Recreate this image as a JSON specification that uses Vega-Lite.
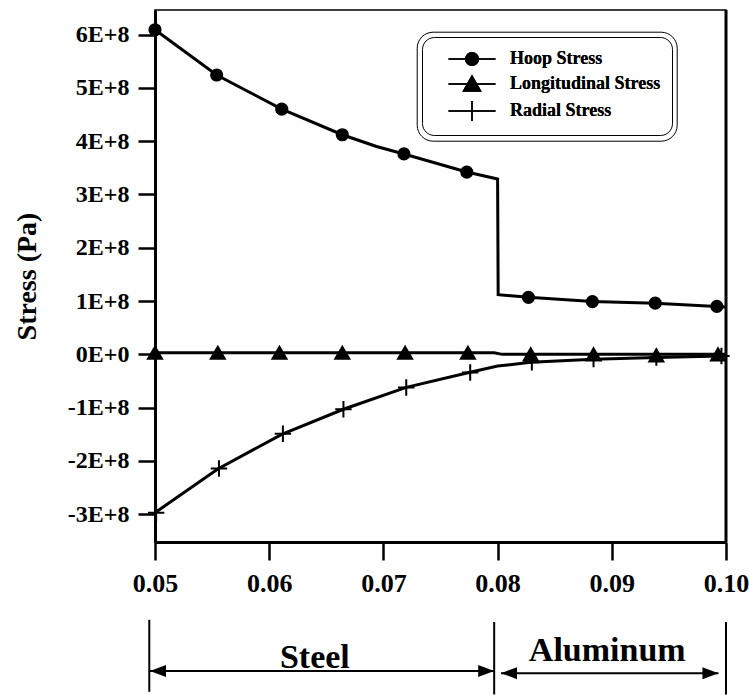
{
  "$schema": "https://vega.github.io/schema/vega-lite/v6.json",
  "width": 571,
  "height": 532,
  "autosize": "none",
  "padding": {"left": 155, "top": 10, "right": 23, "bottom": 153},
  "background": "white",
  "config": {
    "view": {"stroke": "black", "strokeWidth": 1.5},
    "font": "Liberation Serif"
  },
  "datasets": {
    "curves": [
      {"series": "Hoop Stress", "r": 0.05, "stress": 609000000},
      {"series": "Hoop Stress", "r": 0.0554, "stress": 524000000},
      {"series": "Hoop Stress", "r": 0.0611, "stress": 460000000},
      {"series": "Hoop Stress", "r": 0.0664, "stress": 412000000},
      {"series": "Hoop Stress", "r": 0.0694, "stress": 390000000},
      {"series": "Hoop Stress", "r": 0.0718, "stress": 376000000},
      {"series": "Hoop Stress", "r": 0.0773, "stress": 342000000},
      {"series": "Hoop Stress", "r": 0.08, "stress": 329000000},
      {"series": "Hoop Stress", "r": 0.08005, "stress": 112000000},
      {"series": "Hoop Stress", "r": 0.0827, "stress": 107000000},
      {"series": "Hoop Stress", "r": 0.0883, "stress": 99000000},
      {"series": "Hoop Stress", "r": 0.0938, "stress": 96000000},
      {"series": "Hoop Stress", "r": 0.0992, "stress": 90000000},
      {"series": "Hoop Stress", "r": 0.1, "stress": 89000000},
      {"series": "Longitudinal Stress", "r": 0.05, "stress": 3000000},
      {"series": "Longitudinal Stress", "r": 0.0797, "stress": 3000000},
      {"series": "Longitudinal Stress", "r": 0.0804, "stress": 0},
      {"series": "Longitudinal Stress", "r": 0.1, "stress": 0},
      {"series": "Radial Stress", "r": 0.05, "stress": -297000000},
      {"series": "Radial Stress", "r": 0.0555, "stress": -215000000},
      {"series": "Radial Stress", "r": 0.0611, "stress": -150000000},
      {"series": "Radial Stress", "r": 0.0665, "stress": -103000000},
      {"series": "Radial Stress", "r": 0.072, "stress": -62000000},
      {"series": "Radial Stress", "r": 0.0775, "stress": -34000000},
      {"series": "Radial Stress", "r": 0.08, "stress": -22000000},
      {"series": "Radial Stress", "r": 0.0829, "stress": -15000000},
      {"series": "Radial Stress", "r": 0.0884, "stress": -9000000},
      {"series": "Radial Stress", "r": 0.0939, "stress": -6000000},
      {"series": "Radial Stress", "r": 0.0995, "stress": -3000000},
      {"series": "Radial Stress", "r": 0.1, "stress": -3000000}
    ],
    "markers": [
      {"series": "Hoop Stress", "r": 0.05, "stress": 609000000},
      {"series": "Hoop Stress", "r": 0.0554, "stress": 524000000},
      {"series": "Hoop Stress", "r": 0.0611, "stress": 460000000},
      {"series": "Hoop Stress", "r": 0.0664, "stress": 412000000},
      {"series": "Hoop Stress", "r": 0.0718, "stress": 376000000},
      {"series": "Hoop Stress", "r": 0.0773, "stress": 342000000},
      {"series": "Hoop Stress", "r": 0.0827, "stress": 107000000},
      {"series": "Hoop Stress", "r": 0.0883, "stress": 99000000},
      {"series": "Hoop Stress", "r": 0.0938, "stress": 96000000},
      {"series": "Hoop Stress", "r": 0.0992, "stress": 90000000},
      {"series": "Longitudinal Stress", "r": 0.05, "stress": 3000000},
      {"series": "Longitudinal Stress", "r": 0.0555, "stress": 3000000},
      {"series": "Longitudinal Stress", "r": 0.0609, "stress": 3000000},
      {"series": "Longitudinal Stress", "r": 0.0664, "stress": 3000000},
      {"series": "Longitudinal Stress", "r": 0.0719, "stress": 3000000},
      {"series": "Longitudinal Stress", "r": 0.0774, "stress": 3000000},
      {"series": "Longitudinal Stress", "r": 0.0829, "stress": 0},
      {"series": "Longitudinal Stress", "r": 0.0884, "stress": 0},
      {"series": "Longitudinal Stress", "r": 0.0939, "stress": -2000000},
      {"series": "Longitudinal Stress", "r": 0.0993, "stress": 0},
      {"series": "Radial Stress", "r": 0.0501, "stress": -297000000},
      {"series": "Radial Stress", "r": 0.0556, "stress": -214000000},
      {"series": "Radial Stress", "r": 0.0612, "stress": -149000000},
      {"series": "Radial Stress", "r": 0.0665, "stress": -103000000},
      {"series": "Radial Stress", "r": 0.072, "stress": -62000000},
      {"series": "Radial Stress", "r": 0.0776, "stress": -34000000},
      {"series": "Radial Stress", "r": 0.083, "stress": -15000000},
      {"series": "Radial Stress", "r": 0.0884, "stress": -9000000},
      {"series": "Radial Stress", "r": 0.0939, "stress": -6000000},
      {"series": "Radial Stress", "r": 0.0996, "stress": -3000000}
    ],
    "legendItems": [
      {"item": "Hoop Stress"},
      {"item": "Longitudinal Stress"},
      {"item": "Radial Stress"}
    ],
    "edges": [{"r": 0.1}],
    "bounds": [
      {"r": 0.0495, "top": -498000000, "bottom": -633000000},
      {"r": 0.0797, "top": -502000000, "bottom": -638000000},
      {"r": 0.1, "top": -502000000, "bottom": -638000000}
    ],
    "regions": [
      {"name": "Steel", "start": 0.04956, "end": 0.0797, "level": -594000000, "mid": 0.064, "textLevel": -588000000},
      {"name": "Aluminum", "start": 0.0803, "end": 0.09934, "level": -598000000, "mid": 0.0896, "textLevel": -575000000}
    ]
  },
  "layer": [
    {
      "data": {"name": "curves"},
      "mark": {"type": "line", "color": "black", "strokeWidth": 3, "clip": false},
      "encoding": {
        "x": {
          "field": "r", "type": "quantitative",
          "scale": {"domain": [0.05, 0.1], "nice": false, "zero": false},
          "axis": {
            "values": [0.05, 0.06, 0.07, 0.08, 0.09, 0.1],
            "format": ".2f",
            "title": null,
            "grid": false,
            "domainColor": "black", "domainWidth": 3,
            "tickColor": "black", "tickWidth": 2.5, "tickSize": 18,
            "labelFont": "Liberation Serif", "labelFontWeight": "bold", "labelFontSize": 26,
            "labelColor": "black", "labelPadding": 10,
            "labelFlush": false, "labelOverlap": false
          }
        },
        "y": {
          "field": "stress", "type": "quantitative",
          "scale": {"domain": [-352000000, 646000000], "nice": false, "zero": false},
          "axis": {
            "values": [-300000000, -200000000, -100000000, 0, 100000000, 200000000, 300000000, 400000000, 500000000, 600000000],
            "labelExpr": "datum.value == 0 ? '0E+0' : (datum.value / 100000000) + 'E+8'",
            "title": "Stress (Pa)",
            "titleFont": "Liberation Serif", "titleFontWeight": "bold", "titleFontSize": 28,
            "titleColor": "black", "titlePadding": 26,
            "grid": false,
            "domainColor": "black", "domainWidth": 3,
            "tickColor": "black", "tickWidth": 2.5, "tickSize": 17,
            "labelFont": "Liberation Serif", "labelFontWeight": "bold", "labelFontSize": 24,
            "labelColor": "black", "labelPadding": 9,
            "labelOverlap": false, "labelFlush": false
          }
        },
        "detail": {"field": "series"}
      }
    },
    {
      "data": {"name": "markers"},
      "mark": {"type": "point", "filled": true, "fill": "black", "stroke": "black", "strokeWidth": 2, "opacity": 1, "clip": false},
      "encoding": {
        "x": {"field": "r", "type": "quantitative"},
        "y": {"field": "stress", "type": "quantitative"},
        "shape": {
          "field": "series", "type": "nominal",
          "scale": {"domain": ["Hoop Stress", "Longitudinal Stress", "Radial Stress"], "range": ["circle", "triangle-up", "M-1,0H1M0,-1V1"]},
          "legend": null
        },
        "size": {
          "field": "series", "type": "nominal",
          "scale": {"domain": ["Hoop Stress", "Longitudinal Stress", "Radial Stress"], "range": [125, 270, 400]},
          "legend": null
        }
      }
    },
    {
      "data": {"name": "edges"},
      "mark": {"type": "rule", "color": "black", "strokeWidth": 3},
      "encoding": {"x": {"field": "r", "type": "quantitative"}}
    },
    {
      "data": {"name": "bounds"},
      "mark": {"type": "rule", "color": "black", "strokeWidth": 2, "clip": false},
      "encoding": {
        "x": {"field": "r", "type": "quantitative"},
        "y": {"field": "top", "type": "quantitative"},
        "y2": {"field": "bottom"}
      }
    },
    {
      "data": {"name": "regions"},
      "mark": {"type": "rule", "color": "black", "strokeWidth": 2, "clip": false},
      "encoding": {
        "x": {"field": "start", "type": "quantitative"},
        "x2": {"field": "end"},
        "y": {"field": "level", "type": "quantitative"}
      }
    },
    {
      "data": {"name": "regions"},
      "mark": {"type": "point", "shape": "M0,0L2,-0.75L2,0.75Z", "size": 256, "filled": true, "fill": "black", "opacity": 1, "clip": false},
      "encoding": {
        "x": {"field": "start", "type": "quantitative"},
        "y": {"field": "level", "type": "quantitative"}
      }
    },
    {
      "data": {"name": "regions"},
      "mark": {"type": "point", "shape": "M0,0L-2,-0.75L-2,0.75Z", "size": 256, "filled": true, "fill": "black", "opacity": 1, "clip": false},
      "encoding": {
        "x": {"field": "end", "type": "quantitative"},
        "y": {"field": "level", "type": "quantitative"}
      }
    },
    {
      "data": {"name": "regions"},
      "mark": {"type": "text", "font": "Liberation Serif", "fontWeight": "bold", "fontSize": 34, "color": "black", "align": "center", "baseline": "alphabetic", "clip": false},
      "encoding": {
        "x": {"field": "mid", "type": "quantitative"},
        "y": {"field": "textLevel", "type": "quantitative"},
        "text": {"field": "name"}
      }
    },
    {
      "data": {"name": "legendItems"},
      "transform": [{"filter": "false"}],
      "mark": {"type": "point", "filled": true, "fill": "black", "stroke": "black", "strokeWidth": 2.5, "size": 400, "opacity": 1},
      "encoding": {
        "shape": {
          "field": "item", "type": "nominal",
          "scale": {
            "domain": ["Hoop Stress", "Longitudinal Stress", "Radial Stress"],
            "range": [
              "M-2.35,0H2.35M0.63,0A0.63,0.63,0,1,1,-0.63,0A0.63,0.63,0,1,1,0.63,0Z",
              "M-2.35,0H2.35M-0.85,0.7L0,-0.8L0.85,0.7Z",
              "M-2.35,0H2.35M0,-1V1"
            ]
          },
          "legend": {
            "title": null,
            "orient": "none",
            "legendX": 267,
            "legendY": 27,
            "padding": 11,
            "strokeColor": "black",
            "cornerRadius": 12,
            "symbolSize": 400,
            "symbolOffset": 28,
            "labelOffset": 27,
            "rowPadding": 4,
            "labelFont": "Liberation Serif",
            "labelFontWeight": "bold",
            "labelFontSize": 18,
            "labelColor": "black",
            "encode": {
              "legend": {"update": {"strokeWidth": {"value": 2}}},
              "symbols": {"update": {"stroke": {"value": "black"}, "fill": {"value": "black"}, "strokeWidth": {"value": 2.5}, "opacity": {"value": 1}}}
            }
          }
        }
      }
    },
    {
      "data": {"name": "legendItems"},
      "transform": [{"filter": "false"}],
      "mark": {"type": "point", "filled": true, "fill": "black", "stroke": "black", "strokeWidth": 2.5, "size": 400, "opacity": 1},
      "encoding": {
        "shape": {
          "field": "item", "type": "nominal",
          "scale": {
            "domain": ["Hoop Stress", "Longitudinal Stress", "Radial Stress"],
            "range": [
              "M-2.35,0H2.35M0.63,0A0.63,0.63,0,1,1,-0.63,0A0.63,0.63,0,1,1,0.63,0Z",
              "M-2.35,0H2.35M-0.85,0.7L0,-0.8L0.85,0.7Z",
              "M-2.35,0H2.35M0,-1V1"
            ]
          },
          "legend": {
            "title": null,
            "orient": "none",
            "legendX": 261.7,
            "legendY": 21.7,
            "padding": 16.3,
            "strokeColor": "black",
            "cornerRadius": 16,
            "symbolSize": 400,
            "symbolOffset": 28,
            "labelOffset": 27,
            "rowPadding": 4,
            "labelFont": "Liberation Serif",
            "labelFontWeight": "bold",
            "labelFontSize": 18,
            "labelColor": "black",
            "encode": {
              "legend": {"update": {"strokeWidth": {"value": 2}}},
              "symbols": {"update": {"stroke": {"value": "black"}, "fill": {"value": "black"}, "strokeWidth": {"value": 2.5}, "opacity": {"value": 0}}},
              "labels": {"update": {"opacity": {"value": 0}}}
            }
          }
        }
      }
    }
  ],
  "resolve": {
    "scale": {"shape": "independent", "size": "independent"},
    "legend": {"shape": "independent"}
  }
}
